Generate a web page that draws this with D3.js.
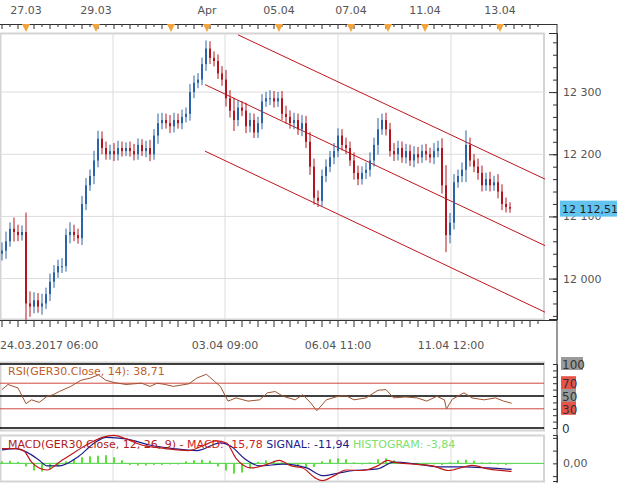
<!DOCTYPE html>
<html><head><meta charset="utf-8">
<script src="https://cdn.jsdelivr.net/npm/d3@7"></script>
<style>
body{margin:0;background:#fff;font-family:"DejaVu Sans",Verdana,sans-serif;}
svg text{font-family:"DejaVu Sans",Verdana,sans-serif;}
</style></head>
<body><svg width="617" height="483"></svg>
<script>
// close prices, one per candle (open = previous close)
var closes = [12045,12060,12080,12075,12070,12075,11960,11955,11965,11955,11960,11975,11995,12010,12020,12020,
  12070,12075,12070,12065,12120,12150,12165,12190,12225,12210,12200,12205,12200,12210,12205,12210,
  12205,12200,12215,12205,12210,12200,12230,12250,12255,12250,12245,12255,12250,12260,12265,12300,
  12315,12320,12345,12370,12355,12350,12330,12320,12290,12270,12255,12275,12270,12245,12255,12235,
  12250,12285,12290,12290,12285,12290,12265,12260,12250,12255,12240,12250,12220,12180,12130,12125,
  12165,12180,12195,12205,12230,12215,12210,12190,12170,12160,12170,12175,12190,12215,12240,12255,
  12240,12205,12200,12210,12195,12205,12190,12200,12195,12205,12200,12195,12205,12210,12150,12070,
  12090,12155,12165,12175,12215,12190,12180,12170,12150,12160,12150,12155,12140,12120,12115,12112.51];
var firstOpen = 12040;
// wick length beyond the body
var wicks = [10,12,8,14,9,8,24,15,10,9,12,8,10,9,8,10,8,12,9,8,10,9,8,12,10,9,8,8,10,9,8,7,
  8,9,8,7,9,10,8,12,9,8,10,9,8,9,8,10,9,8,8,10,9,8,8,9,12,10,16,9,8,10,9,8,
  8,9,8,10,9,8,9,10,8,9,8,10,9,12,10,9,8,9,8,10,9,8,9,8,10,9,8,9,10,9,14,8,
  9,8,10,9,8,9,8,10,9,8,9,8,10,9,12,25,12,10,8,9,18,9,8,10,9,8,9,8,10,9,8,6];

// regression channel (candle index, price)
var channelMid = [[50.75,12312],[135.75,12053]];
var channelUp = [[59,12392],[135.75,12160]];
var channelLow = [[50.75,12205],[135.75,11946]];

var priceTicks = [12000,12100,12200,12300];
var topLabels = [[6,"27.03"],[23.5,"29.03"],[51.25,"Apr"],[69.25,"05.04"],[87.25,"07.04"],[105.75,"11.04"],[124.5,"13.04"]];
var markers = [6,23.5,42.25,51.25,69.25,87.25,96.5,105.75,124.5];
var gridIdx = [27.75,55.75,84,112.25];
var bottomLabels = [[27.75,"24.03.2017 06:00"],[55.75,"03.04 09:00"],[84,"06.04 11:00"],[112.25,"11.04 12:00"]];

var rsiIdx = [0,1.5,4,6,7.4,9.3,11.3,12.8,14.3,17.2,19.7,22.1,24.1,26,28,31,34.9,37,38.8,40.8,42.8,46.7,48.7,51.1,53.1,54.6,56.5,58.5,61.5,64.4,66.4,68.3,70.3,73.3,75.2,77.2,78.7,81.1,84,86,88,91,94,96,97.9,100.8,103.8,106.2,108.7,110.6,111.1,112.6,115.5,117.5,120.5,123.4,125.4,127.4];
var rsiVal = [60,68,62.5,38,44,40,49.5,52,57,65,74.5,78,83,74.5,71,68,70,65,70,68,65,69,78,84,73,65,42,47,42,44,55,57,49.5,44,52,39,27,44,49.5,50.5,44,47,59,60,47,48.5,47,42,49.5,44,30,45,55,47,44,47,42,38.71];

var macdIdx = [0,3.4,5.4,7.4,9.3,11.3,14.3,17.2,21.1,25.1,28,31,34.9,40.8,46.7,50.6,53.6,56.1,58.5,62.4,66.4,69.3,72.3,75.2,78.2,80.1,83.1,86,90,93.9,96.4,97.9,102.8,107.7,111.6,115.5,117.5,121.5,127.4];
var macdVal = [28.8,28.8,25,2.3,-9,-13,2.3,17,36,51,55,48,36,29,25,36,44,40,10,-9,-1.5,6,-5,-9,-28,-34,-24,-13,-14,-5,6,2.3,-1.5,-5,-14,-7,-4,-11,-15.78];
var signalIdx = [0,3.4,6.4,9.3,11.3,14.3,19.2,23.1,26.1,31,36.9,42.8,48.7,54.6,57.5,60.5,64.4,70.3,76.2,80.1,84.1,88,93.9,97.9,103.8,109.7,115.5,121.5,127.4];
var signalVal = [26.5,28.8,21,6,-5,-5,14,40,51,48,36,29,25,40,32,10,-5,-1.5,-9,-24,-19,-14,-11,2.3,-1.5,-7,-7,-9,-11.94];
// histogram, one bar every 2 candles
var histVal = [4,5,3,-6,-14,-16,-12,-6,4,8,12,14,15,16,12,6,-3,-4,-4,-3,-3,-2,-2,4,6,7,5,-6,-14,-20,-18,-10,
  3,6,5,2,-2,-6,-9,-7,4,8,10,8,2,-2,2,8,10,6,2,1,-1,-2,-2,-3,2,6,7,5,2,2,-2,-3];

var svg = d3.select("svg");
var W = 544;
var x = d3.scaleLinear().domain([-0.5, 135.5]).range([0, W]);
var y = d3.scaleLinear().domain([11935, 12395]).range([319, 33]);
var yR = d3.scaleLinear().domain([0, 100]).range([428, 364]);
var yM = d3.scaleLinear().domain([-34.6, 55.6]).range([481, 435]);

function panel(top, bottom) {
	svg.append("rect").attr("x", 0.5).attr("y", top + 0.5).attr("width", W - 0.5).attr("height", bottom - top)
		.attr("fill", "none").attr("stroke", "#d4d4d4").attr("stroke-width", 2);
	gridIdx.forEach(function(g) {
		svg.append("line").attr("x1", x(g)).attr("x2", x(g)).attr("y1", top).attr("y2", bottom)
			.attr("stroke", "#dcdcdc");
	});
}
panel(33, 319);
panel(362, 430);
panel(435, 481);

// price gridlines + right axis
priceTicks.forEach(function(p) {
	svg.append("line").attr("x1", 0).attr("x2", W).attr("y1", y(p)).attr("y2", y(p)).attr("stroke", "#dcdcdc");
});
var fmt = function(d) { return d3.format(",")(d).replace(",", " "); };
svg.append("g").attr("transform", "translate(557,0)")
	.call(d3.axisLeft(y).tickValues(d3.range(11940, 12400, 20)).tickSize(4).tickFormat(""));
svg.append("g").attr("transform", "translate(557,0)")
	.call(d3.axisLeft(y).tickValues(priceTicks).tickSize(8).tickFormat(""));
svg.selectAll("g .domain").attr("stroke", "#333");
svg.selectAll(".tick line").attr("stroke", "#333");
priceTicks.forEach(function(p) {
	svg.append("text").attr("x", 563).attr("y", y(p) + 4).attr("font-size", 11).attr("fill", "#555").text(fmt(p));
});

// top date axis
svg.append("line").attr("x1", 0).attr("x2", 557).attr("y1", 24.5).attr("y2", 24.5).attr("stroke", "#333");
svg.append("line").attr("x1", 557).attr("x2", 557).attr("y1", 24).attr("y2", 483).attr("stroke", "#333");
d3.range(0, 136, 2).forEach(function(i) {
	svg.append("line").attr("x1", x(i)).attr("x2", x(i)).attr("y1", 24).attr("y2", i % 4 ? 27 : 29).attr("stroke", "#333");
});
topLabels.forEach(function(t) {
	svg.append("text").attr("x", x(t[0])).attr("y", 14).attr("text-anchor", "middle")
		.attr("font-size", 11).attr("fill", "#555").text(t[1]);
});
markers.forEach(function(m) {
	var cx = x(m);
	svg.append("path").attr("d", "M" + (cx - 4) + ",24L" + (cx + 4) + ",24L" + cx + ",32Z").attr("fill", "#f2a43a");
});

// bottom time axis
svg.append("line").attr("x1", 0).attr("x2", 557).attr("y1", 320.5).attr("y2", 320.5).attr("stroke", "#333");
d3.range(0, 136, 2).forEach(function(i) {
	svg.append("line").attr("x1", x(i)).attr("x2", x(i)).attr("y1", 320).attr("y2", i % 4 ? 324 : 327).attr("stroke", "#333");
});
bottomLabels.forEach(function(t, k) {
	svg.append("text").attr("x", k === 0 ? 0 : x(t[0])).attr("y", 349).attr("text-anchor", k === 0 ? "start" : "middle")
		.attr("font-size", 11).attr("fill", "#555").text(t[1]);
});

// channel
[channelMid, channelUp, channelLow].forEach(function(c) {
	svg.append("line").attr("x1", x(c[0][0])).attr("y1", y(c[0][1])).attr("x2", x(c[1][0])).attr("y2", y(c[1][1]))
		.attr("stroke", "#c0161c").attr("stroke-width", 1);
});

// candles
var candles = closes.map(function(c, i) {
	var o = i ? closes[i - 1] : firstOpen;
	return { i: i, o: o, c: c, h: Math.max(o, c) + wicks[i] * 1.3, l: Math.min(o, c) - wicks[i] * 1.1 };
});
var cg = svg.append("g");
cg.selectAll(".wick").data(candles).enter().append("line")
	.attr("x1", function(d) { return x(d.i); }).attr("x2", function(d) { return x(d.i); })
	.attr("y1", function(d) { return y(d.h); }).attr("y2", function(d) { return y(d.l); })
	.attr("stroke", function(d) { return d.c >= d.o ? "#2a63a8" : "#b3141e"; });
cg.selectAll(".body").data(candles).enter().append("rect")
	.attr("x", function(d) { return x(d.i) - 1; }).attr("width", 2)
	.attr("y", function(d) { return y(Math.max(d.o, d.c)); })
	.attr("height", function(d) { return Math.max(1, Math.abs(y(d.o) - y(d.c))); })
	.attr("fill", function(d) { return d.c >= d.o ? "#2a63a8" : "#b3141e"; });

// last price label
var last = closes[closes.length - 1];
svg.append("rect").attr("x", 560).attr("y", y(last) - 8).attr("width", 57).attr("height", 16).attr("fill", "#62c3ef");
svg.append("text").attr("x", 562).attr("y", y(last) + 4).attr("font-size", 11).attr("fill", "#222").text("12 112,51");

// RSI panel
[[100, "#000"], [70, "#d0473f"], [50, "#000"], [30, "#d0473f"], [0, "#000"]].forEach(function(l) {
	svg.append("line").attr("x1", 0).attr("x2", W).attr("y1", yR(l[0])).attr("y2", yR(l[0]))
		.attr("stroke", l[1]).attr("stroke-width", l[1] === "#000" ? 1.3 : 1);
});
svg.append("g").attr("transform", "translate(557,0)")
	.call(d3.axisLeft(yR).tickValues(d3.range(0, 101, 10)).tickSize(4).tickFormat(""))
	.selectAll("line,path").attr("stroke", "#333");
[[100, "#9a9a9a"], [70, "#e8534a"], [50, "#9a9a9a"], [30, "#e8534a"], [0, null]].forEach(function(l) {
	var w = l[0] === 100 ? 22 : (l[0] === 0 ? 9 : 15);
	if (l[1]) svg.append("rect").attr("x", 561).attr("y", yR(l[0]) - 7).attr("width", w).attr("height", 13).attr("fill", l[1]);
	svg.append("text").attr("x", 562).attr("y", yR(l[0]) + 5).attr("font-size", 12).attr("fill", "#333").text(l[0]);
});
svg.append("path").datum(rsiIdx.map(function(v, k) { return [v, rsiVal[k]]; }))
	.attr("d", d3.line().x(function(d) { return x(d[0]); }).y(function(d) { return yR(d[1]); }))
	.attr("fill", "none").attr("stroke", "#a0522d").attr("stroke-width", 1);
svg.append("text").attr("x", 8).attr("y", 375).attr("font-size", 11).attr("fill", "#c0602a").text("RSI(GER30.Close, 14): 38,71");

// MACD panel
svg.append("line").attr("x1", 0).attr("x2", W).attr("y1", yM(0)).attr("y2", yM(0)).attr("stroke", "#46d046");
svg.selectAll(".hist").data(histVal).enter().append("rect")
	.attr("x", function(d, k) { return x(k * 2) - 1; }).attr("width", 2)
	.attr("y", function(d) { return Math.min(yM(d), yM(0)); })
	.attr("height", function(d) { return Math.abs(yM(d) - yM(0)); })
	.attr("fill", "#5ee03a");
svg.append("path").datum(signalIdx.map(function(v, k) { return [v, signalVal[k]]; }))
	.attr("d", d3.line().curve(d3.curveMonotoneX).x(function(d) { return x(d[0]); }).y(function(d) { return yM(d[1]); }))
	.attr("fill", "none").attr("stroke", "#1c1c8c").attr("stroke-width", 1.2);
svg.append("path").datum(macdIdx.map(function(v, k) { return [v, macdVal[k]]; }))
	.attr("d", d3.line().curve(d3.curveMonotoneX).x(function(d) { return x(d[0]); }).y(function(d) { return yM(d[1]); }))
	.attr("fill", "none").attr("stroke", "#c01818").attr("stroke-width", 1.2);
svg.append("g").attr("transform", "translate(557,0)")
	.call(d3.axisLeft(yM).tickValues([-25, 0, 25, 50]).tickSize(4).tickFormat(""))
	.selectAll("line,path").attr("stroke", "#333");
svg.append("text").attr("x", 563).attr("y", yM(0) + 4).attr("font-size", 11).attr("fill", "#555").text("0,00");
var mt = svg.append("text").attr("x", 8).attr("y", 448).attr("font-size", 11);
mt.append("tspan").attr("fill", "#b01a1a").text("MACD(GER30.Close, 12, 26, 9) -  ");
mt.append("tspan").attr("fill", "#d02020").text("MACD: -15,78  ");
mt.append("tspan").attr("fill", "#1c1c8c").text("SIGNAL: -11,94  ");
mt.append("tspan").attr("fill", "#7ee06a").text("HISTOGRAM: -3,84");
</script></body></html>
